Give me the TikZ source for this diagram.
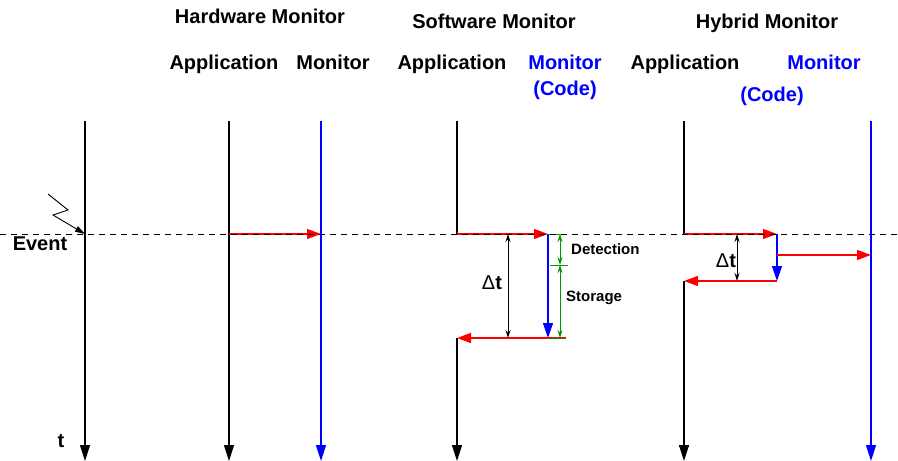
\documentclass[tikz,border=0pt]{standalone}
\usepackage{fontspec}
\setmainfont{Liberation Sans}
\usetikzlibrary{arrows.meta}

\definecolor{mblue}{RGB}{0,0,255}
\definecolor{mred}{RGB}{255,0,0}
\definecolor{mgreen}{RGB}{0,150,0}

\newcommand{\dT}{{\fontseries{m}\selectfont Δ}t}

\begin{document}
\begin{tikzpicture}[x=1pt,y=-1pt,
  lbl/.style={font=\bfseries\fontsize{20}{22}\selectfont, anchor=base, inner sep=0pt},
  small/.style={font=\bfseries\fontsize{15}{17}\selectfont, anchor=base west, inner sep=0pt},
  timeline/.style={line width=1.2pt, -{Triangle[length=16pt,width=10pt]}},
  plainline/.style={line width=1.2pt},
  msg/.style={draw=mred, line width=1.3pt, -{Triangle[length=14pt,width=10pt]}},
  codeflow/.style={draw=mblue, line width=1.4pt, -{Triangle[length=15pt,width=10pt]}},
  monline/.style={timeline, draw=mblue, line width=1.4pt},
  delta/.style={black, line width=0.9pt, {Stealth[length=8pt,width=5pt]}-{Stealth[length=8pt,width=5pt]}},
  gdim/.style={draw=mgreen, line width=1pt, {Stealth[length=8pt,width=5pt]}-{Stealth[length=8pt,width=5pt]}},
  gtick/.style={draw=mgreen, line width=1pt},
  eventline/.style={line width=0.8pt, dash pattern=on 6pt off 5pt}
]
\useasboundingbox (0,0) rectangle (898,461);

% headings
\node[lbl] (hwtitle) at (260,23.5) {Hardware Monitor};
\node[lbl] (swtitle) at (494,28.5) {Software Monitor};
\node[lbl] (hytitle) at (767,28.5) {Hybrid Monitor};
\node[lbl] (hwapp) at (224,69.5) {Application};
\node[lbl] (hwmon) at (333,69.5) {Monitor};
\node[lbl] (swapp) at (452,69.5) {Application};
\node[lbl, text=mblue] (swmon) at (565,69.5) {Monitor};
\node[lbl, text=mblue] (swcode) at (565,95) {(Code)};
\node[lbl] (hyapp) at (685,69.5) {Application};
\node[lbl, text=mblue] (hymon) at (824,69.5) {Monitor};
\node[lbl, text=mblue] (hycode) at (772,101) {(Code)};

% time axis and event
\coordinate (ttop) at (85,121);
\coordinate (tbot) at (85,461);
\draw[timeline] (ttop) -- (tbot);
\node[lbl] (tlabel) at (61,447) {t};
\node[lbl] (event) at (40,250) {Event};
\coordinate (ev0) at (48,194);
\coordinate (ev1) at (68,210);
\coordinate (ev2) at (53,215);
\coordinate (ev3) at (85,234);
\draw[line width=0.9pt, -{Triangle[length=10pt,width=6pt]}] (ev0) -- (ev1) -- (ev2) -- (ev3);

% hardware monitor
\coordinate (hwa0) at (229,121);
\coordinate (hwa1) at (229,461);
\coordinate (hwm0) at (321,121);
\coordinate (hwm1) at (321,461);
\coordinate (hwaE) at (229,234);
\coordinate (hwmE) at (321,234);
\draw[timeline] (hwa0) -- (hwa1);
\draw[monline] (hwm0) -- (hwm1);
\draw[msg] (hwaE) -- (hwmE);

% software monitor
\coordinate (swa0) at (457,121);
\coordinate (swaE) at (457,234);
\coordinate (swaR) at (457,338);
\coordinate (swa1) at (457,461);
\coordinate (swcE) at (548,234);
\coordinate (swcR) at (548,338);
\coordinate (swgR) at (566,338);
\draw[plainline] (swa0) -- (swaE);
\draw[timeline] (swaR) -- (swa1);
\draw[msg] (swaE) -- (swcE);
\draw[codeflow] (swcE) -- (swcR);
\draw[msg] (swgR) -- (swaR);
% time bars
\coordinate (swd0) at (508,234);
\coordinate (swd1) at (508,338);
\draw[delta] (swd0) -- (swd1);
\node[lbl] (swdt) at (492,289) {\dT};
\coordinate (g0) at (560,234);
\coordinate (g1) at (560,265);
\coordinate (g2) at (560,338);
\coordinate (gt0a) at (548,234);
\coordinate (gt0b) at (566,234);
\coordinate (gt1a) at (550,265);
\coordinate (gt1b) at (568,265);
\draw[gtick] (gt0a) -- (gt0b);
\draw[gtick] (gt1a) -- (gt1b);
\draw[gtick] (swcR) -- (swgR);
\draw[gdim] (g0) -- (g1);
\draw[gdim] (g1) -- (g2);
\node[small] (det) at (571,254.5) {Detection};
\node[small] (sto) at (566,301) {Storage};

% hybrid monitor
\coordinate (hya0) at (684,121);
\coordinate (hyaE) at (684,234);
\coordinate (hyaR) at (684,281);
\coordinate (hya1) at (684,461);
\coordinate (hycE) at (777,234);
\coordinate (hycR) at (777,281);
\coordinate (hycS) at (777,255);
\coordinate (hymS) at (871,255);
\coordinate (hym0) at (871,121);
\coordinate (hym1) at (871,461);
\draw[plainline] (hya0) -- (hyaE);
\draw[timeline] (hyaR) -- (hya1);
\draw[monline] (hym0) -- (hym1);
\draw[msg] (hyaE) -- (hycE);
\draw[codeflow] (hycE) -- (hycR);
\draw[msg] (hycS) -- (hymS);
\draw[msg] (hycR) -- (hyaR);
\coordinate (hyd0) at (737,234);
\coordinate (hyd1) at (737,281);
\draw[delta] (hyd0) -- (hyd1);
\node[lbl] (hydt) at (726,267) {\dT};

% event instant
\coordinate (el0) at (0,234);
\coordinate (el1) at (898,234);
\draw[eventline] (el0) -- (el1);
\end{tikzpicture}
\end{document}
